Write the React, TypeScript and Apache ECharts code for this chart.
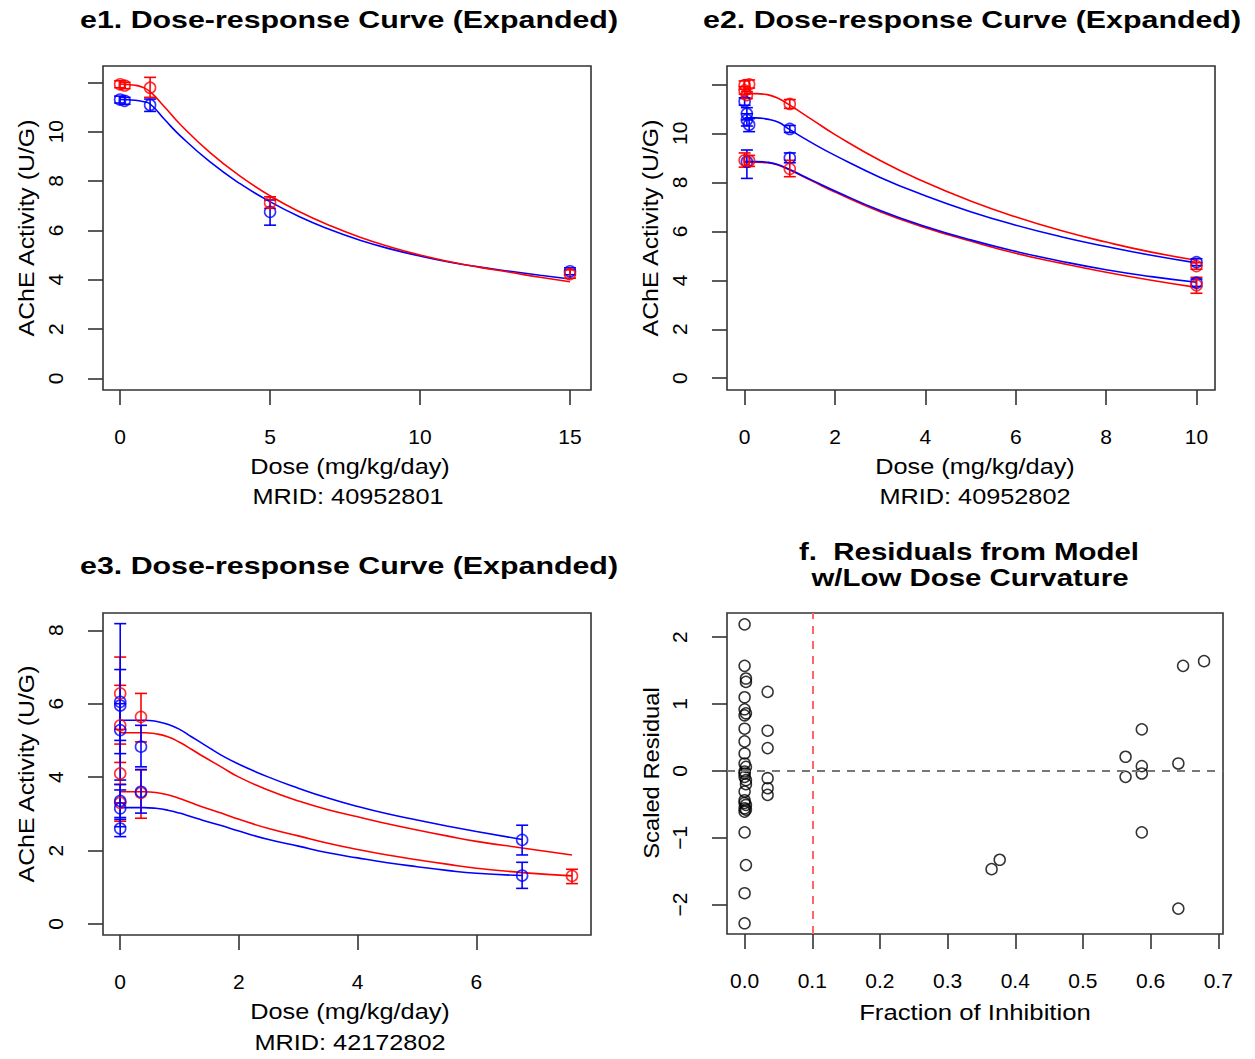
import React, { useEffect, useRef } from 'react';
import * as echarts from 'echarts';

const RED = '#ff0000';
const BLUE = '#0000ff';
const FONT = '"Liberation Sans", Arial, Helvetica, sans-serif';

// ---------- e1 (MRID 40952801) ----------  [dose, mean, lower, upper]
const e1Red = [
  [0, 11.92, 11.78, 12.06],
  [0.15, 11.87, 11.74, 12.0],
  [1, 11.78, 11.39, 12.2],
  [5, 7.12, 6.89, 7.36],
  [15, 4.23, 4.06, 4.4],
];
const e1Blue = [
  [0, 11.3, 11.16, 11.44],
  [0.15, 11.25, 11.11, 11.39],
  [1, 11.08, 10.82, 11.32],
  [5, 6.75, 6.21, 7.23],
  [15, 4.34, 4.2, 4.48],
];
const e1CurveDose = [0, 0.5, 0.75, 1, 1.5, 2, 3, 4, 5, 6, 7, 8, 9, 10, 11, 12, 13, 14, 15];
const e1CurveRed = [11.93, 11.88, 11.8, 11.62, 10.98, 10.3, 9.15, 8.2, 7.4, 6.74, 6.19, 5.72, 5.33, 5.0, 4.73, 4.5, 4.3, 4.1, 3.92];
const e1CurveBlue = [11.3, 11.27, 11.22, 11.12, 10.47, 9.84, 8.77, 7.89, 7.16, 6.54, 6.03, 5.6, 5.25, 4.96, 4.71, 4.51, 4.34, 4.18, 4.03];

// ---------- e2 (MRID 40952802) ----------
const e2Red = [
  [0, 11.97, 11.8, 12.14],
  [0.1, 12.0, 11.85, 12.18],
  [0, 11.75, 11.6, 11.9],
  [0.05, 11.56, 11.42, 11.7],
  [0, 8.9, 8.62, 9.2],
  [0.1, 8.88, 8.65, 9.1],
  [1, 11.2, 11.02, 11.38],
  [1, 8.55, 8.23, 8.9],
  [10, 4.58, 4.45, 4.72],
  [10, 3.8, 3.47, 4.12],
];
const e2Blue = [
  [0, 11.3, 11.15, 11.45],
  [0.05, 10.8, 10.55, 11.05],
  [0.05, 10.55, 10.3, 10.8],
  [0.1, 10.35, 10.07, 10.6],
  [0.05, 8.84, 8.16, 9.32],
  [1, 10.18, 10.04, 10.32],
  [1, 9.0, 8.8, 9.2],
  [10, 4.74, 4.6, 4.88],
  [10, 3.9, 3.75, 4.05],
];
const e2CurveDose = [0, 0.25, 0.5, 0.75, 1, 1.5, 2, 3, 4, 5, 6, 7, 8, 9, 10];
const e2CurveRedHigh = [11.62, 11.62, 11.58, 11.42, 11.15, 10.55, 9.95, 8.89, 8.0, 7.24, 6.59, 6.03, 5.56, 5.15, 4.82];
const e2CurveBlueHigh = [10.63, 10.63, 10.58, 10.45, 10.15, 9.6, 9.1, 8.2, 7.45, 6.8, 6.25, 5.78, 5.38, 5.02, 4.71];
const e2CurveRedLow = [8.82, 8.82, 8.8, 8.7, 8.5, 8.05, 7.6, 6.8, 6.15, 5.6, 5.1, 4.7, 4.33, 4.0, 3.71];
const e2CurveBlueLow = [8.85, 8.85, 8.82, 8.72, 8.52, 8.08, 7.65, 6.85, 6.2, 5.65, 5.18, 4.78, 4.43, 4.15, 3.92];

// ---------- e3 (MRID 42172802) ----------
const e3Red = [
  [0, 6.28, 5.3, 7.27],
  [0, 5.41, 4.4, 6.5],
  [0, 4.1, 3.3, 4.9],
  [0, 3.3, 2.8, 3.8],
  [0.35, 5.64, 4.96, 6.28],
  [0.35, 3.57, 2.88, 4.21],
  [7.61, 1.31, 1.1, 1.49],
];
const e3Blue = [
  [0, 6.05, 3.92, 8.18],
  [0, 5.95, 5.0, 6.93],
  [0, 5.28, 4.64, 6.0],
  [0, 3.35, 2.9, 3.8],
  [0, 3.15, 2.65, 3.65],
  [0, 2.6, 2.38, 2.85],
  [0.35, 4.83, 4.28, 5.41],
  [0.35, 3.6, 3.02, 4.2],
  [6.77, 2.29, 1.88, 2.69],
  [6.77, 1.32, 0.97, 1.68],
];
const e3CurveDoseBlue = [0, 0.4, 0.6, 0.8, 1.0, 1.2, 1.4, 1.7, 2, 2.5, 3, 3.5, 4, 4.5, 5, 5.5, 6, 6.77];
const e3CurveBlueHigh = [5.55, 5.55, 5.52, 5.44, 5.3, 5.1, 4.9, 4.6, 4.35, 4.0, 3.7, 3.43, 3.2, 3.0, 2.83, 2.67, 2.52, 2.3];
const e3CurveBlueLow = [3.17, 3.17, 3.15, 3.1, 3.02, 2.92, 2.82, 2.68, 2.53, 2.3, 2.12, 1.94, 1.8, 1.67, 1.56, 1.46, 1.38, 1.32];
const e3CurveDoseRed = [0, 0.4, 0.6, 0.8, 1.0, 1.2, 1.4, 1.7, 2, 2.5, 3, 3.5, 4, 4.5, 5, 5.5, 6, 6.77, 7.61];
const e3CurveRedHigh = [5.21, 5.21, 5.18, 5.1, 4.95, 4.76, 4.56, 4.28, 4.0, 3.64, 3.35, 3.11, 2.92, 2.73, 2.56, 2.4, 2.25, 2.07, 1.88];
const e3CurveRedLow = [3.6, 3.6, 3.58, 3.52, 3.42, 3.3, 3.18, 3.02, 2.85, 2.6, 2.4, 2.2, 2.03, 1.88, 1.75, 1.63, 1.52, 1.4, 1.31];

// ---------- f (residuals) ----------
const fInhibition = [
  0, 0, 0.002, 0.002, 0, 0, 0.002, 0, 0, 0, 0, 0, 0.002, 0, 0, 0.002, 0, 0, 0.002, 0, 0, 0, 0.002, 0, 0,
  0, 0.002, 0, 0.002,
  0.034, 0.034, 0.034, 0.034, 0.034, 0.034,
  0.365, 0.377,
  0.563, 0.563, 0.587, 0.587, 0.587, 0.587, 0.641, 0.641, 0.648, 0.679,
];
const fResidual = [
  2.19, 1.57, 1.38, 1.33, 1.1, 0.92, 0.86, 0.83, 0.63, 0.44, 0.26, 0.11, 0.06, -0.01, -0.09, -0.14, -0.31, -0.44, -0.51, -0.56, -0.61, -0.92, -1.41, -1.83, -2.28,
  -0.04, -0.2, -0.48, -0.58,
  1.18, 0.6, 0.34, -0.11, -0.26, -0.36,
  -1.47, -1.33,
  0.21, -0.09, 0.62, 0.07, -0.04, -0.92, 0.11, -2.06, 1.57, 1.64,
];

// ---------- axes ----------
const e1XTicks = [0, 5, 10, 15];
const e2XTicks = [0, 2, 4, 6, 8, 10];
const e3XTicks = [0, 2, 4, 6];
const fXTicks = [0, 0.1, 0.2, 0.3, 0.4, 0.5, 0.6, 0.7];
const e12YTicks = [0, 2, 4, 6, 8, 10, 12];
const e12YLabels = [0, 2, 4, 6, 8, 10];
const e3YTicks = [0, 2, 4, 6, 8];
const fYTicks = [-2, -1, 0, 1, 2];

const LINE = '#333';

function xAxis(gridIndex: number, min: number, max: number, ticks: number[], fmt?: (v: number) => string) {
  return {
    type: 'value', gridIndex, min, max, position: 'bottom',
    axisLine: { show: false, onZero: false },
    splitLine: { show: false },
    axisTick: { show: true, inside: false, length: 15, customValues: ticks, lineStyle: { color: LINE, width: 1.6 } },
    axisLabel: { customValues: ticks, margin: 36, fontSize: 21, color: '#000', fontFamily: FONT, formatter: fmt },
  };
}
function yAxis(gridIndex: number, min: number, max: number, ticks: number[], labels: number[], fmt?: (v: number) => string) {
  return {
    type: 'value', gridIndex, min, max, position: 'left',
    axisLine: { show: false, onZero: false },
    splitLine: { show: false },
    axisTick: { show: true, inside: false, length: 15, customValues: ticks, lineStyle: { color: LINE, width: 1.6 } },
    axisLabel: { customValues: labels, rotate: 90, margin: 37, fontSize: 21, color: '#000', fontFamily: FONT, formatter: fmt },
  };
}

function curve(idx: number, doses: number[], vals: number[], color: string) {
  return {
    type: 'line', xAxisIndex: idx, yAxisIndex: idx, z: 2,
    data: doses.map((d, i) => [d, vals[i]]),
    showSymbol: false, smooth: true,
    lineStyle: { color, width: 1.6 }, silent: true,
  };
}
function points(idx: number, rows: number[][], color: string) {
  return {
    type: 'scatter', xAxisIndex: idx, yAxisIndex: idx, z: 4,
    data: rows.map((r) => [r[0], r[1]]),
    symbol: 'circle', symbolSize: 11,
    itemStyle: { color: 'rgba(0,0,0,0)', borderColor: color, borderWidth: 1.6 },
    silent: true,
  };
}
function errorBars(idx: number, rows: number[][], color: string) {
  return {
    type: 'custom', xAxisIndex: idx, yAxisIndex: idx, z: 3,
    data: rows,
    encode: { x: 0, y: 1 },
    silent: true,
    renderItem: (params: any, api: any) => {
      const x = api.value(0);
      const lo = api.coord([x, api.value(2)]);
      const hi = api.coord([x, api.value(3)]);
      const w = 6;
      const st = { stroke: color, lineWidth: 1.6 };
      return {
        type: 'group',
        children: [
          { type: 'line', shape: { x1: lo[0], y1: lo[1], x2: hi[0], y2: hi[1] }, style: st },
          { type: 'line', shape: { x1: lo[0] - w, y1: lo[1], x2: lo[0] + w, y2: lo[1] }, style: st },
          { type: 'line', shape: { x1: hi[0] - w, y1: hi[1], x2: hi[0] + w, y2: hi[1] }, style: st },
        ],
      };
    },
  };
}

function label(text: string, x: number, y: number, opts: { bold?: boolean; size?: number; sx?: number; rot?: number } = {}) {
  const size = opts.size ?? 22;
  const font = `${opts.bold ? 'bold ' : ''}${size}px ${FONT}`;
  return {
    type: 'text', x, y, rotation: opts.rot ?? 0, scaleX: opts.sx ?? 1, silent: true,
    style: {
      text, font, fill: '#000',
      align: 'center', verticalAlign: 'middle',
      textAlign: 'center', textVerticalAlign: 'middle',
    },
  };
}

export default function App() {
  const ref = useRef<HTMLDivElement>(null);
  useEffect(() => {
    if (!ref.current) return;
    const chart = echarts.init(ref.current, undefined, { renderer: 'svg' });
    const gridBase = { show: true, borderColor: LINE, borderWidth: 1.6, backgroundColor: 'transparent', containLabel: false };
    const minus = (v: number) => (v < 0 ? '\u2212' + Math.abs(v) : String(v));
    const option = {
      animation: false,
      backgroundColor: '#ffffff',
      grid: [
        { ...gridBase, left: 103, top: 66, width: 488, height: 324 },
        { ...gridBase, left: 727, top: 66, width: 488, height: 324 },
        { ...gridBase, left: 103, top: 613, width: 488, height: 322 },
        { ...gridBase, left: 727, top: 613, width: 496, height: 321 },
      ],
      xAxis: [
        xAxis(0, -0.57, 15.7, e1XTicks),
        xAxis(1, -0.39, 10.41, e2XTicks),
        xAxis(2, -0.29, 7.93, e3XTicks),
        xAxis(3, -0.026, 0.707, fXTicks, (v: number) => v.toFixed(1)),
      ],
      yAxis: [
        yAxis(0, -0.47, 12.66, e12YTicks, e12YLabels),
        yAxis(1, -0.48, 12.75, e12YTicks, e12YLabels),
        yAxis(2, -0.3, 8.47, e3YTicks, e3YTicks),
        yAxis(3, -2.44, 2.36, fYTicks, fYTicks, minus),
      ],
      series: [
        curve(0, e1CurveDose, e1CurveBlue, BLUE),
        curve(0, e1CurveDose, e1CurveRed, RED),
        errorBars(0, e1Blue, BLUE),
        errorBars(0, e1Red, RED),
        points(0, e1Blue, BLUE),
        points(0, e1Red, RED),

        curve(1, e2CurveDose, e2CurveBlueHigh, BLUE),
        curve(1, e2CurveDose, e2CurveRedHigh, RED),
        curve(1, e2CurveDose, e2CurveRedLow, RED),
        curve(1, e2CurveDose, e2CurveBlueLow, BLUE),
        errorBars(1, e2Blue, BLUE),
        errorBars(1, e2Red, RED),
        points(1, e2Blue, BLUE),
        points(1, e2Red, RED),

        curve(2, e3CurveDoseBlue, e3CurveBlueHigh, BLUE),
        curve(2, e3CurveDoseRed, e3CurveRedHigh, RED),
        curve(2, e3CurveDoseRed, e3CurveRedLow, RED),
        curve(2, e3CurveDoseBlue, e3CurveBlueLow, BLUE),
        errorBars(2, e3Red, RED),
        errorBars(2, e3Blue, BLUE),
        points(2, e3Red, RED),
        points(2, e3Blue, BLUE),

        {
          type: 'scatter', xAxisIndex: 3, yAxisIndex: 3, z: 4,
          data: fInhibition.map((x, i) => [x, fResidual[i]]),
          symbol: 'circle', symbolSize: 11,
          itemStyle: { color: 'rgba(0,0,0,0)', borderColor: '#000', borderWidth: 1.5 },
          silent: true,
          markLine: {
            silent: true, symbol: ['none', 'none'], label: { show: false }, animation: false,
            data: [
              { yAxis: 0, lineStyle: { color: '#777', type: [8, 7], width: 2 } },
              { xAxis: 0.1, lineStyle: { color: '#ff6666', type: [8, 7], width: 2 } },
            ],
          },
        },
      ],
      graphic: [
        label('e1. Dose-response Curve (Expanded)', 349, 20, { bold: true, size: 23, sx: 1.32 }),
        label('e2. Dose-response Curve (Expanded)', 972, 20, { bold: true, size: 23, sx: 1.32 }),
        label('e3. Dose-response Curve (Expanded)', 349, 566, { bold: true, size: 23, sx: 1.32 }),
        label('f.  Residuals from Model', 969, 552, { bold: true, size: 23, sx: 1.28 }),
        label('w/Low Dose Curvature', 970, 578, { bold: true, size: 23, sx: 1.28 }),

        label('Dose (mg/kg/day)', 350, 467, { sx: 1.15 }),
        label('MRID: 40952801', 348, 497, { sx: 1.15 }),
        label('Dose (mg/kg/day)', 975, 467, { sx: 1.15 }),
        label('MRID: 40952802', 975, 497, { sx: 1.15 }),
        label('Dose (mg/kg/day)', 350, 1012, { sx: 1.15 }),
        label('MRID: 42172802', 350, 1043, { sx: 1.15 }),
        label('Fraction of Inhibition', 975, 1012, { sx: 1.17 }),

        label('AChE Activity (U/G)', 27, 228, { sx: 1.13, rot: Math.PI / 2 }),
        label('AChE Activity (U/G)', 651, 228, { sx: 1.13, rot: Math.PI / 2 }),
        label('AChE Activity (U/G)', 27, 774, { sx: 1.13, rot: Math.PI / 2 }),
        label('Scaled Residual', 651, 773, { sx: 1.08, rot: Math.PI / 2 }),
      ],
    };
    chart.setOption(option as any);
    return () => chart.dispose();
  }, []);
  return (
    <div
      ref={ref}
      style={{ position: 'fixed', left: 0, top: 0, width: 1255, height: 1059, background: '#fff' }}
    />
  );
}
